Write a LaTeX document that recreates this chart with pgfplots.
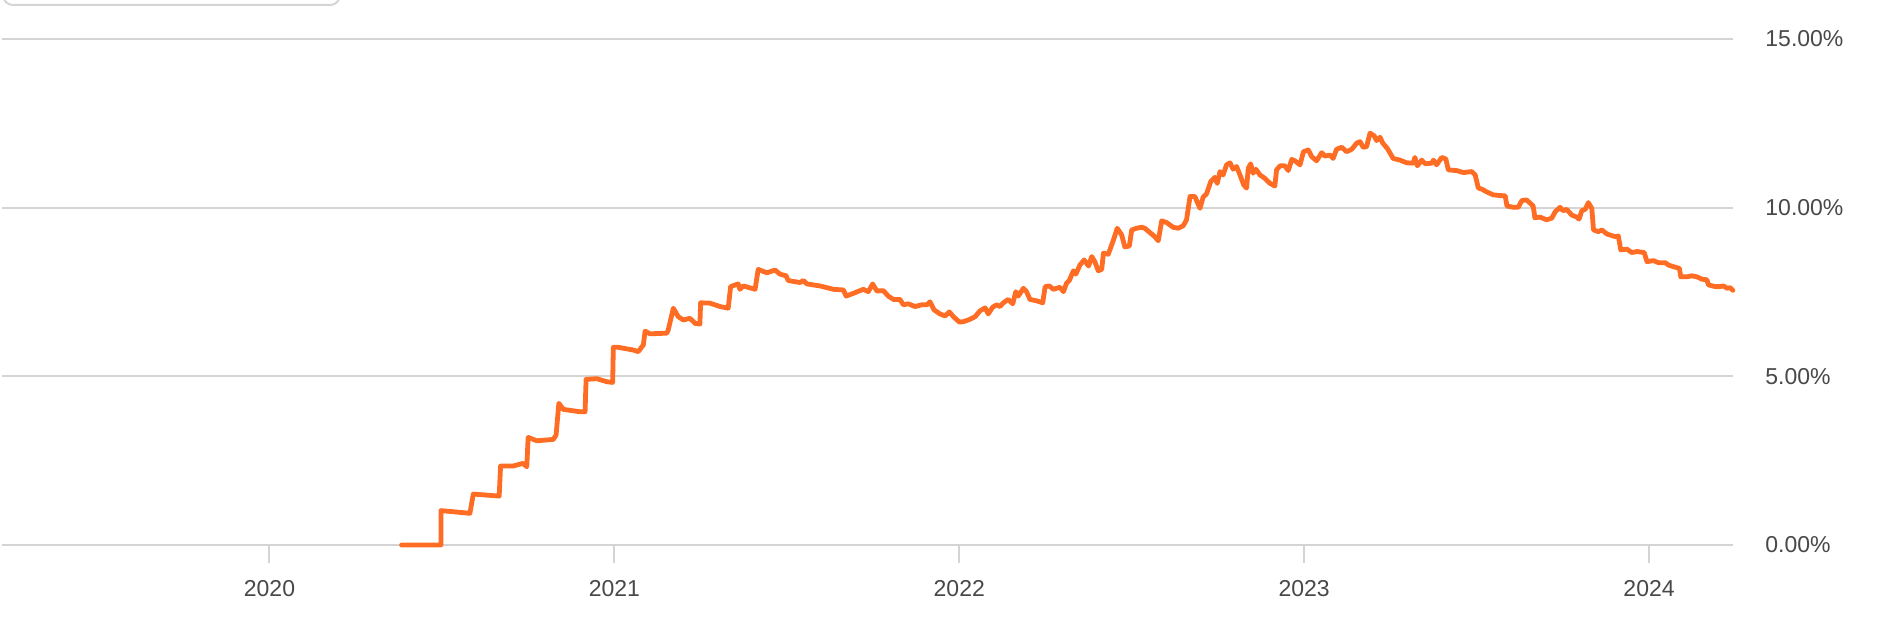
\documentclass[border=0pt]{standalone}
\usepackage{pgfplots}
\pgfplotsset{compat=1.18}
\usepackage{pgfplotstable}
\usepackage{fontspec}
\setmainfont{Liberation Sans}
\definecolor{lineorange}{RGB}{255,108,36}
\definecolor{gridgray}{RGB}{212,212,212}
\definecolor{labelgray}{RGB}{72,72,72}
\pgfplotstableread{
year value
2020.383 0.00
2020.497 0.00
2020.497 1.02
2020.581 0.94
2020.591 1.51
2020.666 1.45
2020.670 2.34
2020.706 2.34
2020.735 2.42
2020.746 2.32
2020.750 3.19
2020.775 3.09
2020.823 3.13
2020.831 3.26
2020.839 4.20
2020.852 4.02
2020.900 3.95
2020.915 3.95
2020.918 4.91
2020.949 4.93
2020.978 4.84
2020.995 4.82
2020.997 5.86
2021.011 5.86
2021.055 5.78
2021.069 5.73
2021.084 5.93
2021.089 6.34
2021.103 6.26
2021.152 6.28
2021.156 6.37
2021.171 7.02
2021.185 6.77
2021.200 6.67
2021.219 6.72
2021.234 6.57
2021.248 6.55
2021.250 7.18
2021.277 7.17
2021.306 7.07
2021.330 7.02
2021.337 7.66
2021.359 7.74
2021.364 7.58
2021.374 7.68
2021.384 7.65
2021.408 7.58
2021.417 8.17
2021.442 8.07
2021.466 8.15
2021.480 8.03
2021.498 7.98
2021.504 7.84
2021.538 7.78
2021.548 7.84
2021.558 7.74
2021.596 7.68
2021.635 7.58
2021.664 7.56
2021.672 7.38
2021.693 7.46
2021.712 7.54
2021.722 7.58
2021.736 7.51
2021.749 7.74
2021.761 7.53
2021.780 7.54
2021.794 7.38
2021.809 7.28
2021.828 7.28
2021.838 7.12
2021.852 7.15
2021.872 7.07
2021.891 7.12
2021.906 7.12
2021.915 7.21
2021.927 6.97
2021.944 6.85
2021.959 6.79
2021.971 6.91
2021.983 6.77
2022.000 6.61
2022.012 6.62
2022.031 6.69
2022.046 6.77
2022.060 6.94
2022.075 7.03
2022.084 6.85
2022.097 7.05
2022.108 7.12
2022.118 7.07
2022.128 7.18
2022.142 7.28
2022.155 7.15
2022.164 7.51
2022.171 7.38
2022.186 7.61
2022.195 7.51
2022.205 7.28
2022.224 7.24
2022.242 7.18
2022.249 7.66
2022.261 7.68
2022.273 7.58
2022.292 7.64
2022.302 7.51
2022.311 7.76
2022.319 7.84
2022.331 8.13
2022.338 8.03
2022.350 8.30
2022.362 8.45
2022.375 8.27
2022.384 8.55
2022.393 8.40
2022.403 8.13
2022.413 8.17
2022.418 8.65
2022.432 8.62
2022.447 9.04
2022.458 9.39
2022.471 9.19
2022.480 8.84
2022.493 8.86
2022.500 9.34
2022.514 9.39
2022.529 9.42
2022.538 9.39
2022.553 9.26
2022.567 9.14
2022.577 9.02
2022.587 9.61
2022.601 9.56
2022.620 9.42
2022.635 9.39
2022.649 9.46
2022.659 9.64
2022.669 10.33
2022.683 10.33
2022.698 9.98
2022.707 10.31
2022.717 10.41
2022.729 10.77
2022.741 10.90
2022.748 10.72
2022.756 11.07
2022.765 10.97
2022.775 11.27
2022.785 11.33
2022.794 11.14
2022.804 11.22
2022.814 10.97
2022.825 10.67
2022.833 10.58
2022.838 11.17
2022.845 11.30
2022.852 11.02
2022.860 11.14
2022.872 10.97
2022.886 10.87
2022.901 10.72
2022.915 10.64
2022.920 11.12
2022.930 11.24
2022.944 11.24
2022.954 11.10
2022.964 11.43
2022.973 11.39
2022.988 11.27
2022.998 11.66
2023.012 11.71
2023.022 11.51
2023.036 11.39
2023.051 11.63
2023.060 11.53
2023.075 11.56
2023.084 11.46
2023.094 11.73
2023.109 11.79
2023.123 11.66
2023.138 11.73
2023.152 11.91
2023.162 11.96
2023.171 11.79
2023.181 11.81
2023.191 12.21
2023.203 12.13
2023.210 11.99
2023.220 12.09
2023.228 11.91
2023.241 11.76
2023.258 11.46
2023.278 11.41
2023.297 11.33
2023.316 11.32
2023.321 11.49
2023.328 11.24
2023.341 11.41
2023.351 11.30
2023.370 11.32
2023.375 11.41
2023.384 11.27
2023.399 11.49
2023.411 11.44
2023.418 11.12
2023.442 11.10
2023.462 11.04
2023.486 11.07
2023.496 10.97
2023.505 10.58
2023.515 10.55
2023.529 10.47
2023.548 10.38
2023.568 10.36
2023.583 10.35
2023.588 10.05
2023.607 10.01
2023.621 10.01
2023.631 10.21
2023.645 10.23
2023.664 10.05
2023.669 9.70
2023.684 9.72
2023.703 9.64
2023.718 9.69
2023.728 9.88
2023.742 10.01
2023.751 9.91
2023.761 9.95
2023.776 9.78
2023.791 9.72
2023.797 9.66
2023.805 9.91
2023.815 9.95
2023.824 10.15
2023.834 9.98
2023.839 9.34
2023.853 9.29
2023.863 9.34
2023.878 9.22
2023.902 9.14
2023.911 9.16
2023.918 8.75
2023.936 8.77
2023.950 8.67
2023.965 8.70
2023.986 8.67
2023.994 8.40
2024.013 8.43
2024.027 8.37
2024.047 8.37
2024.056 8.30
2024.071 8.25
2024.088 8.20
2024.092 7.95
2024.110 7.95
2024.124 7.98
2024.139 7.95
2024.153 7.88
2024.168 7.86
2024.172 7.71
2024.192 7.66
2024.206 7.66
2024.216 7.68
2024.226 7.61
2024.235 7.63
2024.243 7.55
}\datatable
\begin{document}
\begin{tikzpicture}
\useasboundingbox (0,0) rectangle (941pt,314pt);
\clip (0,0) rectangle (941pt,314pt);
\draw[gridgray, line width=1pt, rounded corners=5pt] (1.5pt,330pt) rectangle (170pt,311.5pt);
\begin{axis}[
  at={(1pt,41.5pt)}, anchor=south west,
  width=865.5pt, height=253pt, scale only axis,
  xmin=2019.2244, xmax=2024.2435, ymin=0, ymax=15,
  axis line style={draw=none},
  clip=false,
  xtick={2020,2021,2022,2023,2024},
  xticklabels={2020,2021,2022,2023,2024},
  ytick={0,5,10,15},
  yticklabels={0.00\%,5.00\%,10.00\%,15.00\%},
  ymajorgrids,
  grid style={gridgray, line width=1pt},
  yticklabel pos=right,
  ytick style={draw=none},
  xtick pos=left,
  tick align=outside,
  xtick style={gridgray, line width=1pt},
  major tick length=9pt,
  tick label style={font=\fontsize{11.5}{13}\selectfont, text=labelgray},
  xticklabel style={inner sep=0pt, yshift=-8.4pt},
  yticklabel style={inner sep=0pt, anchor=west, xshift=7pt},
]
\addplot[lineorange, line width=2.4pt, line join=round, line cap=round] table[x=year, y=value] {\datatable};
\end{axis}
\end{tikzpicture}
\end{document}
